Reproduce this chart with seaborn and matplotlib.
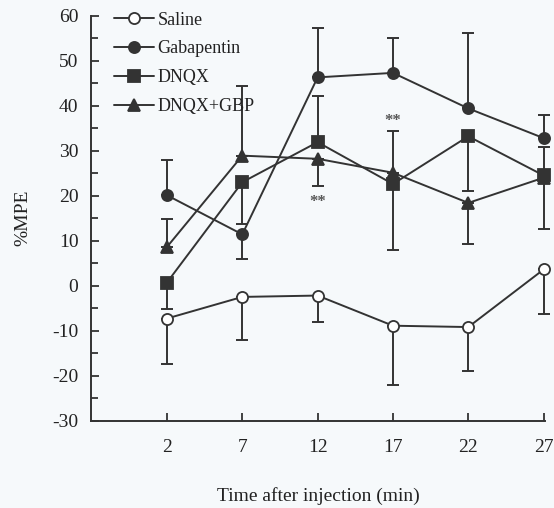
import numpy as np
import pandas as pd
import seaborn as sns
import matplotlib.pyplot as plt
from matplotlib.ticker import MultipleLocator

# time points (min) and %MPE
time_min = [2, 7, 12, 17, 22, 27]

saline = [-7.3, -2.5, -2.2, -8.9, -9.2, 3.6]
saline_lo = [10.1, 9.5, 5.9, 13.1, 9.7, 10.0]
saline_hi = [0, 0, 0, 0, 0, 0]

gabapentin = [20.1, 11.4, 46.3, 47.3, 39.4, 32.8]
gabapentin_lo = [0, 5.5, 0, 0, 0, 0]
gabapentin_hi = [7.9, 0, 10.9, 7.7, 16.7, 5.1]

dnqx = [0.7, 23.0, 31.9, 22.6, 33.2, 24.5]
dnqx_lo = [5.9, 9.2, 0, 14.7, 12.1, 11.9]
dnqx_hi = [0, 0, 10.2, 0, 0, 6.4]

dnqx_gbp = [8.6, 28.9, 28.2, 25.1, 18.4, 24.0]
dnqx_gbp_lo = [0, 0, 6.0, 0, 9.2, 0]
dnqx_gbp_hi = [6.3, 15.4, 0, 9.3, 0, 0]

star_x = [12, 17]
star_y = [18.5, 36.5]

sns.set_style("ticks")
plt.rcParams['font.family'] = ['Liberation Serif', 'DejaVu Serif']
plt.rcParams['axes.unicode_minus'] = False

ink = '#333333'
txt = '#222222'
bg = '#f6f9fb'

fig = plt.figure(figsize=(5.54, 5.08), dpi=100, facecolor=bg)
ax = fig.add_axes([0.164, 0.172, 0.820, 0.797])
ax.set_facecolor(bg)

series = [
    ('Saline', saline, saline_lo, saline_hi, 'o', 'white'),
    ('Gabapentin', gabapentin, gabapentin_lo, gabapentin_hi, 'o', ink),
    ('DNQX', dnqx, dnqx_lo, dnqx_hi, 's', ink),
    ('DNQX+GBP', dnqx_gbp, dnqx_gbp_lo, dnqx_gbp_hi, '^', ink),
]

for name, vals, lo, hi, mk, face in series:
    ax.errorbar(time_min, vals, yerr=[lo, hi], fmt='none', ecolor=ink,
                elinewidth=1.4, capsize=4, capthick=1.4, zorder=2, clip_on=False)
    df = pd.DataFrame({'t': time_min, 'v': vals})
    sns.lineplot(data=df, x='t', y='v', ax=ax, color=ink, lw=1.4,
                 marker=mk, markersize=8.5 if mk != 'o' else 8, markerfacecolor=face,
                 markeredgecolor=ink, markeredgewidth=1.3, label=name,
                 zorder=3, clip_on=False)

for sx, sy in zip(star_x, star_y):
    ax.text(sx, sy, '**', ha='center', va='center', fontsize=12,
            fontweight='bold', color='#555555')

ax.set_xlim(-3.05, 27.1)
ax.set_ylim(-30, 60)
ax.set_xticks(time_min)
ax.yaxis.set_major_locator(MultipleLocator(10))
ax.yaxis.set_minor_locator(MultipleLocator(5))
ax.tick_params(axis='both', which='major', direction='in', length=6, width=1.3,
               colors=ink, labelsize=14, labelcolor=txt)
ax.tick_params(axis='y', which='minor', direction='in', length=5, width=1.3, colors=ink)
ax.tick_params(axis='x', pad=13)
ax.tick_params(axis='y', pad=9)
for s in ['top', 'right']:
    ax.spines[s].set_visible(False)
for s in ['left', 'bottom']:
    ax.spines[s].set_color(ink)
    ax.spines[s].set_linewidth(1.4)

ax.set_xlabel('Time after injection (min)', fontsize=14, color=txt)
ax.set_ylabel('%MPE', fontsize=14, color=txt)
ax.xaxis.set_label_coords(0.5, -0.165)
ax.yaxis.set_label_coords(-0.13, 0.50)

leg = ax.legend(loc='upper left', bbox_to_anchor=(0.035, 1.028), frameon=False,
                fontsize=13, handlelength=2.2, handletextpad=0.2,
                labelspacing=0.65, borderaxespad=0)
for t in leg.get_texts():
    t.set_color(txt)

fig.savefig('out.png', dpi=100, facecolor=bg)
